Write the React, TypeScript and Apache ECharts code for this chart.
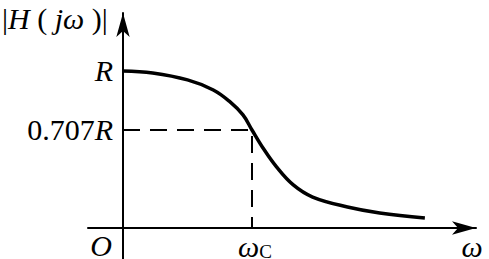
import React, { useEffect, useRef } from "react";
import * as echarts from "echarts";

// Frequency response (ω in units of ωC, |H| in units of R)
const omega = [0, 0.23, 0.5, 0.7, 0.83, 0.93, 1.0, 1.08, 1.19, 1.32, 1.47, 1.74, 1.99, 2.34];
const magnitude = [1, 0.987, 0.943, 0.879, 0.803, 0.72, 0.624, 0.516, 0.389, 0.274, 0.197, 0.134, 0.096, 0.064];

const cutoffOmega = 1;
const cutoffLevel = 0.624;
const yTickValues = [1, cutoffLevel];
const yTickLabels = ["{i|R}", "{n|0.707}{i|R}"];
const xTickValues = [cutoffOmega];
const xTickLabels = ["{w|ω}{s|C}"];

const FONT = "Times New Roman";

export default function App() {
  const ref = useRef<HTMLDivElement>(null);
  useEffect(() => {
    if (!ref.current) return;
    const chart = echarts.init(ref.current, null, { renderer: "svg" });
    const curve = omega.map((w, i) => [w, magnitude[i]]);
    const guide = [
      [0, cutoffLevel],
      [cutoffOmega, cutoffLevel],
      [cutoffOmega, 0],
    ];
    chart.setOption({
      animation: false,
      backgroundColor: "#ffffff",
      textStyle: { fontFamily: FONT },
      grid: { left: 88, right: 13, top: 13, bottom: 0, containLabel: false, outerBoundsMode: "none" },
      xAxis: {
        type: "value",
        min: -0.2713,
        max: 2.7364,
        axisLine: {
          onZero: true,
          lineStyle: { color: "#000", width: 2 },
          symbol: ["none", "arrow"],
          symbolSize: [10, 24],
        },
        axisTick: { show: false },
        splitLine: { show: false },
        axisLabel: {
          customValues: xTickValues,
          formatter: (v: number) => xTickLabels[xTickValues.indexOf(v)] ?? "",
          // labels sit at the grid edge (31px below the zero line), so pull them up
          margin: -28,
          color: "#000",
          fontFamily: FONT,
          lineHeight: 30,
          rich: {
            w: { fontFamily: FONT, fontStyle: "italic", fontSize: 30, lineHeight: 30, color: "#000", padding: [0, 0, 0, 6] },
            s: { fontFamily: FONT, fontSize: 19, lineHeight: 18, color: "#000", verticalAlign: "bottom" },
          },
        },
      },
      yAxis: {
        type: "value",
        min: -0.1975,
        max: 1.369,
        axisLine: {
          onZero: true,
          lineStyle: { color: "#000", width: 2 },
          symbol: ["none", "arrow"],
          symbolSize: [10, 24],
        },
        axisTick: { show: false },
        splitLine: { show: false },
        axisLabel: {
          customValues: yTickValues,
          formatter: (v: number) => yTickLabels[yTickValues.indexOf(v)] ?? "",
          // labels sit at the grid edge (35px left of the zero line), so pull them in
          margin: -25,
          color: "#000",
          fontFamily: FONT,
          rich: {
            i: { fontFamily: FONT, fontStyle: "italic", fontSize: 30, color: "#000" },
            n: { fontFamily: FONT, fontSize: 30, color: "#000" },
          },
        },
      },
      series: [
        {
          type: "line",
          data: curve,
          smooth: 0.4,
          showSymbol: false,
          lineStyle: { color: "#000", width: 3.5 },
          z: 3,
        },
        {
          type: "line",
          data: guide,
          showSymbol: false,
          lineStyle: { color: "#000", width: 2, type: [17, 10] },
          z: 2,
        },
      ],
      graphic: [
        {
          type: "text",
          x: 2,
          y: 18,
          style: {
            text: "{b||}{h|H}{b| ( }{h|jω}{b| )|}",
            fontFamily: FONT,
            fontSize: 30,
            fill: "#000",
            verticalAlign: "middle",
            rich: {
              b: { fontFamily: FONT, fontSize: 30, fill: "#000" },
              h: { fontFamily: FONT, fontSize: 30, fontStyle: "italic", fill: "#000" },
            },
          },
        },
        {
          type: "text",
          x: 101,
          y: 245,
          style: {
            text: "O",
            fontFamily: FONT,
            fontStyle: "italic",
            fontSize: 30,
            fill: "#000",
            align: "center",
            verticalAlign: "middle",
          },
        },
        {
          type: "text",
          x: 472,
          y: 246,
          style: {
            text: "ω",
            fontFamily: FONT,
            fontStyle: "italic",
            fontSize: 30,
            fill: "#000",
            align: "center",
            verticalAlign: "middle",
          },
        },
      ],
    });
    return () => chart.dispose();
  }, []);
  return (
    <div
      ref={ref}
      style={{ position: "fixed", left: 0, top: 0, width: 489, height: 259, background: "#fff" }}
    />
  );
}
